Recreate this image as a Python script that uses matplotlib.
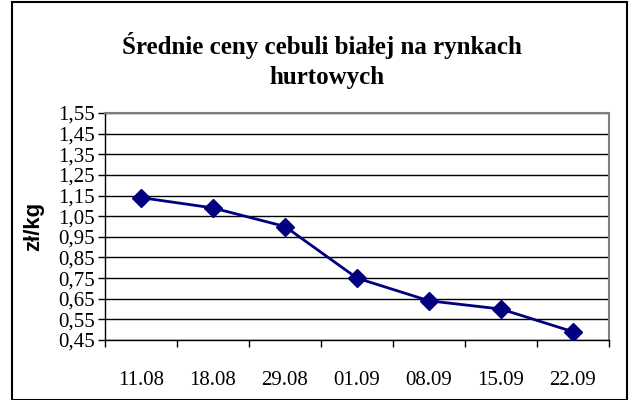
import matplotlib.pyplot as plt
import numpy as np
from matplotlib.patches import Rectangle

dates = ["11.08", "18.08", "29.08", "01.09", "08.09", "15.09", "22.09"]
prices = [1.14, 1.09, 1.00, 0.75, 0.64, 0.60, 0.49]
yticks = [0.45, 0.55, 0.65, 0.75, 0.85, 0.95, 1.05, 1.15, 1.25, 1.35, 1.45, 1.55]

fig = plt.figure(figsize=(6.29, 4.0), dpi=100)
ax = fig.add_axes([105/629, 1 - 340/400, 504/629, 227/400])

x = np.arange(len(dates))
ax.plot(x, prices, color='#000080', lw=2, marker='D', ms=9, zorder=3)

ax.set_xlim(-0.5, len(dates) - 0.5)
ax.set_ylim(0.45, 1.55)
ax.set_yticks(yticks)
ax.set_yticklabels([f"{v:.2f}".replace('.', ',') for v in yticks],
                   family='Liberation Serif', fontsize=15)
ax.set_xticks(x)
ax.set_xticklabels(dates, family='Liberation Serif', fontsize=15)
ax.set_xticks(np.arange(len(dates) + 1) - 0.5, minor=True)
ax.tick_params(axis='x', which='major', length=0, pad=22)
ax.tick_params(axis='x', which='minor', length=5, width=1, color='black')
ax.tick_params(axis='y', length=5, width=1, pad=2, color='black')

ax.grid(axis='y', color='black', lw=1)
ax.set_axisbelow(True)
for s in ['left', 'bottom']:
    ax.spines[s].set_color('black')
    ax.spines[s].set_linewidth(1)
for s in ['top', 'right']:
    ax.spines[s].set_color('#808080')
    ax.spines[s].set_linewidth(1.5)

ax.set_ylabel("zł/kg", family='Liberation Sans', fontweight='bold', fontsize=16)
ax.yaxis.set_label_coords(-0.12, 0.5)

fig.text(322/629, 1 - 54/400, "Średnie ceny cebuli białej na rynkach",
         ha='center', va='baseline', family='Liberation Serif', fontweight='bold', fontsize=18)
fig.text(327/629, 1 - 84/400, "hurtowych",
         ha='center', va='baseline', family='Liberation Serif', fontweight='bold', fontsize=18)

fig.patches.append(Rectangle((12/629, 0.5/400), 615/629, 398/400, transform=fig.transFigure,
                             fill=False, edgecolor='black', lw=1.5))

fig.savefig("out.png", dpi=100)
